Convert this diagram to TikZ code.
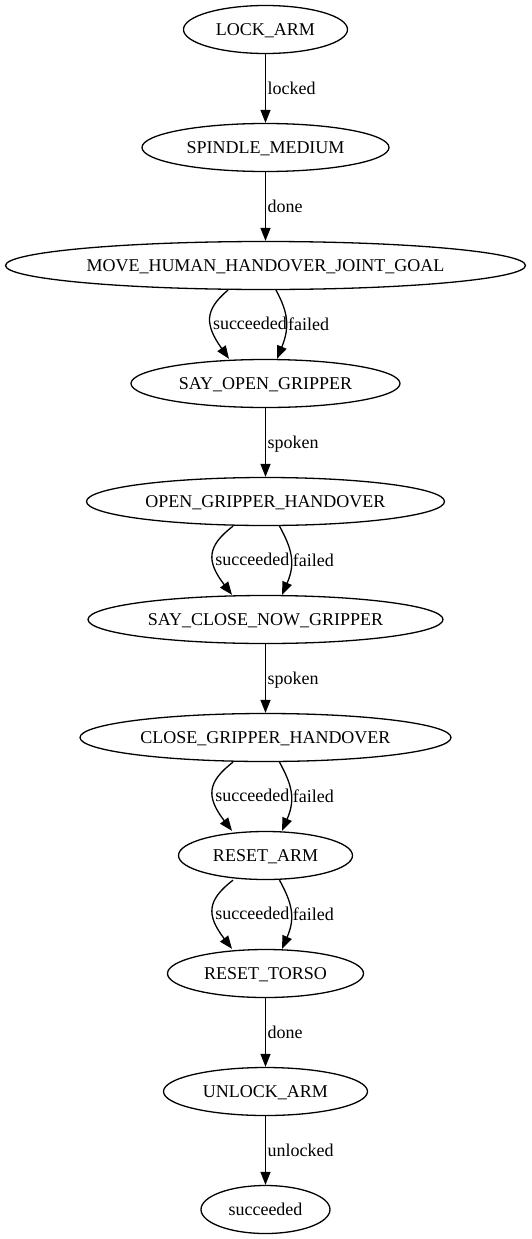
\documentclass[tikz,border=0pt]{standalone}
\usepackage{fontspec}
\setmainfont{Liberation Serif}
\usetikzlibrary{shapes.geometric,arrows.meta}
\tikzset{>={Triangle[length=13pt,width=10pt]}}
\tikzset{
  state/.style={ellipse, draw, line width=1.3pt, inner sep=0pt, minimum height=48pt,
    font=\fontsize{18}{21}\selectfont, text height=12pt, text depth=0pt},
  elabel/.style={right, inner sep=1.5pt, font=\fontsize{18}{21}\selectfont,
    text height=12pt, text depth=0pt},
  edge/.style={->, line width=1.3pt}
}

\begin{document}
\begin{tikzpicture}[x=1pt,y=-1pt]
\useasboundingbox (0,0) rectangle (531,1239);
                \node[state, minimum width=164pt] (lock) at (265.5,29.5) {LOCK\_ARM};
                \node[state, minimum width=247pt] (spindle) at (265.5,147.5) {SPINDLE\_MEDIUM};
                \node[state, minimum width=520pt] (move) at (265.5,265.5) {MOVE\_HUMAN\_HANDOVER\_JOINT\_GOAL};
                \node[state, minimum width=269pt] (sayopen) at (265.5,383.5) {SAY\_OPEN\_GRIPPER};
                \node[state, minimum width=358pt] (open) at (265.5,501.5) {OPEN\_GRIPPER\_HANDOVER};
                \node[state, minimum width=355pt] (sayclose) at (265.5,619.5) {SAY\_CLOSE\_NOW\_GRIPPER};
                \node[state, minimum width=371pt] (close) at (265.5,737.5) {CLOSE\_GRIPPER\_HANDOVER};
                \node[state, minimum width=174pt] (resetarm) at (265.5,855.5) {RESET\_ARM};
                \node[state, minimum width=196pt] (resettorso) at (265.5,973.5) {RESET\_TORSO};
                \node[state, minimum width=204pt] (unlock) at (265.5,1091.5) {UNLOCK\_ARM};
                \node[state, minimum width=129pt] (done) at (265.5,1209.5) {succeeded};
                \draw[edge] (lock) -- node[elabel] {locked} (spindle);
                \draw[edge] (spindle) -- node[elabel] {done} (move);
                \draw[edge] ([xshift=-37.5pt]move.south) .. controls +(-24,20) and +(-24,-34) .. ([xshift=-36.5pt]sayopen.north) node[elabel, pos=0.56] {succeeded};
                \draw[edge] ([xshift=10.5pt]move.south) .. controls +(12,22) and +(13,-32) .. ([xshift=11.5pt]sayopen.north) node[elabel, pos=0.56] {failed};
                \draw[edge] (sayopen) -- node[elabel] {spoken} (open);
                \draw[edge] ([xshift=-32.5pt]open.south) .. controls +(-26,20) and +(-26,-34) .. ([xshift=-33.5pt]sayclose.north) node[elabel, pos=0.56] {succeeded};
                \draw[edge] ([xshift=14pt]open.south) .. controls +(12,22) and +(14,-32) .. ([xshift=16.5pt]sayclose.north) node[elabel, pos=0.56] {failed};
                \draw[edge] (sayclose) -- node[elabel] {spoken} (close);
                \draw[edge] ([xshift=-32.5pt]close.south) .. controls +(-26,20) and +(-26,-34) .. ([xshift=-33.5pt]resetarm.north) node[elabel, pos=0.56] {succeeded};
                \draw[edge] ([xshift=14pt]close.south) .. controls +(12,22) and +(14,-32) .. ([xshift=16.5pt]resetarm.north) node[elabel, pos=0.56] {failed};
                \draw[edge] ([xshift=-32.5pt]resetarm.south) .. controls +(-26,20) and +(-26,-34) .. ([xshift=-33.5pt]resettorso.north) node[elabel, pos=0.56] {succeeded};
                \draw[edge] ([xshift=14pt]resetarm.south) .. controls +(12,22) and +(14,-32) .. ([xshift=16.5pt]resettorso.north) node[elabel, pos=0.56] {failed};
                \draw[edge] (resettorso) -- node[elabel] {done} (unlock);
                \draw[edge] (unlock) -- node[elabel] {unlocked} (done);
            \end{tikzpicture}
\end{document}
